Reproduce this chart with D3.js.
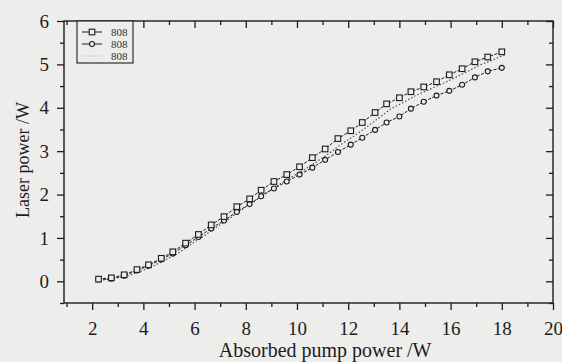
<!DOCTYPE html>
<html>
<head>
<meta charset="utf-8">
<script src="https://cdn.jsdelivr.net/npm/d3@7"></script>
<style>
  body { margin: 0; background: #ededeb; }
  svg { display: block; font-family: "Liberation Serif", "DejaVu Serif", serif; }
</style>
</head>
<body>
<svg id="chart" width="562" height="362"></svg>
<script>
// absorbed pump power (W)
const pump = [2.25, 2.75, 3.25, 3.75, 4.2, 4.7, 5.15, 5.65, 6.15, 6.65, 7.15, 7.65, 8.15, 8.6, 9.1, 9.6,
  10.1, 10.6, 11.1, 11.6, 12.1, 12.55, 13.05, 13.5, 14.0, 14.45, 14.95, 15.45, 15.95, 16.45, 16.95, 17.45, 18.0];
// laser power (W), one array per series
const seriesA = [0.05, 0.08, 0.15, 0.27, 0.38, 0.53, 0.68, 0.88, 1.08, 1.3, 1.49, 1.72, 1.9, 2.1, 2.3, 2.46,
  2.64, 2.85, 3.05, 3.29, 3.47, 3.66, 3.89, 4.09, 4.23, 4.37, 4.48, 4.6, 4.76, 4.9, 5.06, 5.17, 5.29];
const seriesB = [0.04, 0.06, 0.13, 0.25, 0.36, 0.5, 0.64, 0.83, 1.02, 1.22, 1.4, 1.6, 1.78, 1.96, 2.14, 2.3,
  2.46, 2.62, 2.8, 2.98, 3.15, 3.31, 3.49, 3.66, 3.8, 3.98, 4.14, 4.28, 4.39, 4.53, 4.7, 4.84, 4.92];
const seriesC = [0.03, 0.07, 0.13, 0.24, 0.35, 0.5, 0.64, 0.84, 1.03, 1.24, 1.43, 1.65, 1.84, 2.03, 2.22, 2.4,
  2.57, 2.76, 2.96, 3.18, 3.37, 3.56, 3.78, 3.98, 4.13, 4.28, 4.41, 4.54, 4.68, 4.83, 4.98, 5.1, 5.24];
const legendLabels = ["808", "808", "808"];
const xTicks = [2, 4, 6, 8, 10, 12, 14, 16, 18, 20];
const yTicks = [0, 1, 2, 3, 4, 5, 6];

const margin = { top: 21, right: 9, bottom: 59, left: 64 },
    width = 562 - margin.left - margin.right,
    height = 362 - margin.top - margin.bottom;

const bg = "#ededeb";
const ink = "#1c1c1c";

const x = d3.scaleLinear().domain([0.9, 20]).range([0, width]);
const y = d3.scaleLinear().domain([-0.5, 6]).range([height, 0]);

const svg = d3.select("#chart");
const g = svg.append("g").attr("transform", "translate(" + margin.left + "," + margin.top + ")");

const xMinor = d3.range(1, 21, 1).filter(v => !xTicks.includes(v));
const yMinor = d3.range(-0.5, 6, 0.5).filter(v => !yTicks.includes(v));

function styleAxis(sel) {
  sel.select(".domain").remove();
  sel.selectAll("line").attr("stroke", ink).attr("stroke-width", 1.3);
  sel.selectAll("text").attr("fill", ink).style("font-size", "19px")
    .attr("font-family", "Liberation Serif, serif");
}

g.append("g").attr("transform", "translate(0," + height + ")")
  .call(d3.axisBottom(x).tickValues(xMinor).tickSize(4).tickFormat(""))
  .call(styleAxis);
g.append("g").attr("transform", "translate(0," + height + ")")
  .call(d3.axisBottom(x).tickValues(xTicks).tickSize(7).tickPadding(12).tickFormat(d3.format("d")))
  .call(styleAxis);
g.append("g")
  .call(d3.axisTop(x).tickValues(xMinor).tickSize(-4).tickFormat(""))
  .call(styleAxis);
g.append("g")
  .call(d3.axisTop(x).tickValues(xTicks).tickSize(-7).tickFormat(""))
  .call(styleAxis);

g.append("g")
  .call(d3.axisLeft(y).tickValues(yMinor).tickSize(4).tickFormat(""))
  .call(styleAxis);
g.append("g")
  .call(d3.axisLeft(y).tickValues(yTicks).tickSize(7).tickPadding(8).tickFormat(d3.format("d")))
  .call(styleAxis);
g.append("g").attr("transform", "translate(" + width + ",0)")
  .call(d3.axisRight(y).tickValues(yMinor).tickSize(-4).tickFormat(""))
  .call(styleAxis);
g.append("g").attr("transform", "translate(" + width + ",0)")
  .call(d3.axisRight(y).tickValues(yTicks).tickSize(-7).tickFormat(""))
  .call(styleAxis);

// frame
g.append("rect").attr("width", width).attr("height", height)
  .attr("fill", "none").attr("stroke", ink).attr("stroke-width", 1.4);

const line = d3.line().x(d => x(d[0])).y(d => y(d[1]));

// third series: dotted, no markers
g.append("path").datum(d3.zip(pump, seriesC).map(d => [d[0] + 0.18, d[1]]))
  .attr("d", line).attr("fill", "none").attr("stroke", "#444")
  .attr("stroke-width", 1.1).attr("stroke-dasharray", "1.5,2");

// circle series
g.append("path").datum(d3.zip(pump, seriesB)).attr("d", line)
  .attr("fill", "none").attr("stroke", ink).attr("stroke-width", 1).attr("stroke-dasharray", "3,1.5");
g.selectAll(".circ").data(d3.zip(pump, seriesB)).enter().append("circle")
  .attr("class", "circ")
  .attr("cx", d => x(d[0])).attr("cy", d => y(d[1])).attr("r", 2.5)
  .attr("fill", bg).attr("stroke", ink).attr("stroke-width", 1.1);

// square series
g.append("path").datum(d3.zip(pump, seriesA)).attr("d", line)
  .attr("fill", "none").attr("stroke", ink).attr("stroke-width", 1).attr("stroke-dasharray", "3,1.5");
g.selectAll(".sq").data(d3.zip(pump, seriesA)).enter().append("rect")
  .attr("class", "sq")
  .attr("x", d => x(d[0]) - 2.8).attr("y", d => y(d[1]) - 2.8)
  .attr("width", 5.6).attr("height", 5.6)
  .attr("fill", bg).attr("stroke", ink).attr("stroke-width", 1.1);

// legend
const lg = g.append("g").attr("transform", "translate(13,0)");
lg.append("rect").attr("width", 56).attr("height", 42)
  .attr("fill", bg).attr("stroke", ink).attr("stroke-width", 1.1);
const rows = [11, 23, 35];
rows.forEach((ry, i) => {
  if (i < 2) {
    lg.append("line").attr("x1", 5).attr("x2", 25).attr("y1", ry).attr("y2", ry)
      .attr("stroke", ink).attr("stroke-width", 1);
  } else {
    lg.append("line").attr("x1", 5).attr("x2", 25).attr("y1", ry).attr("y2", ry)
      .attr("stroke", "#aaa").attr("stroke-width", 1).attr("stroke-dasharray", "1,2");
  }
  if (i === 0) {
    lg.append("rect").attr("x", 12.2).attr("y", ry - 2.8).attr("width", 5.6).attr("height", 5.6)
      .attr("fill", bg).attr("stroke", ink).attr("stroke-width", 1.1);
  } else if (i === 1) {
    lg.append("circle").attr("cx", 15).attr("cy", ry).attr("r", 2.5)
      .attr("fill", bg).attr("stroke", ink).attr("stroke-width", 1.1);
  }
  lg.append("text").attr("x", 34).attr("y", ry + 4).text(legendLabels[i])
    .style("font-size", "11px").attr("fill", "#333");
});

// axis titles
svg.append("text").attr("x", margin.left + x(11.1)).attr("y", 357)
  .attr("text-anchor", "middle").style("font-size", "20px").attr("fill", ink)
  .text("Absorbed pump power /W");
svg.append("text").attr("transform", "translate(29," + 160 + ") rotate(-90)")
  .attr("text-anchor", "middle").style("font-size", "18px").attr("fill", ink)
  .text("Laser power /W");
</script>
</body>
</html>
